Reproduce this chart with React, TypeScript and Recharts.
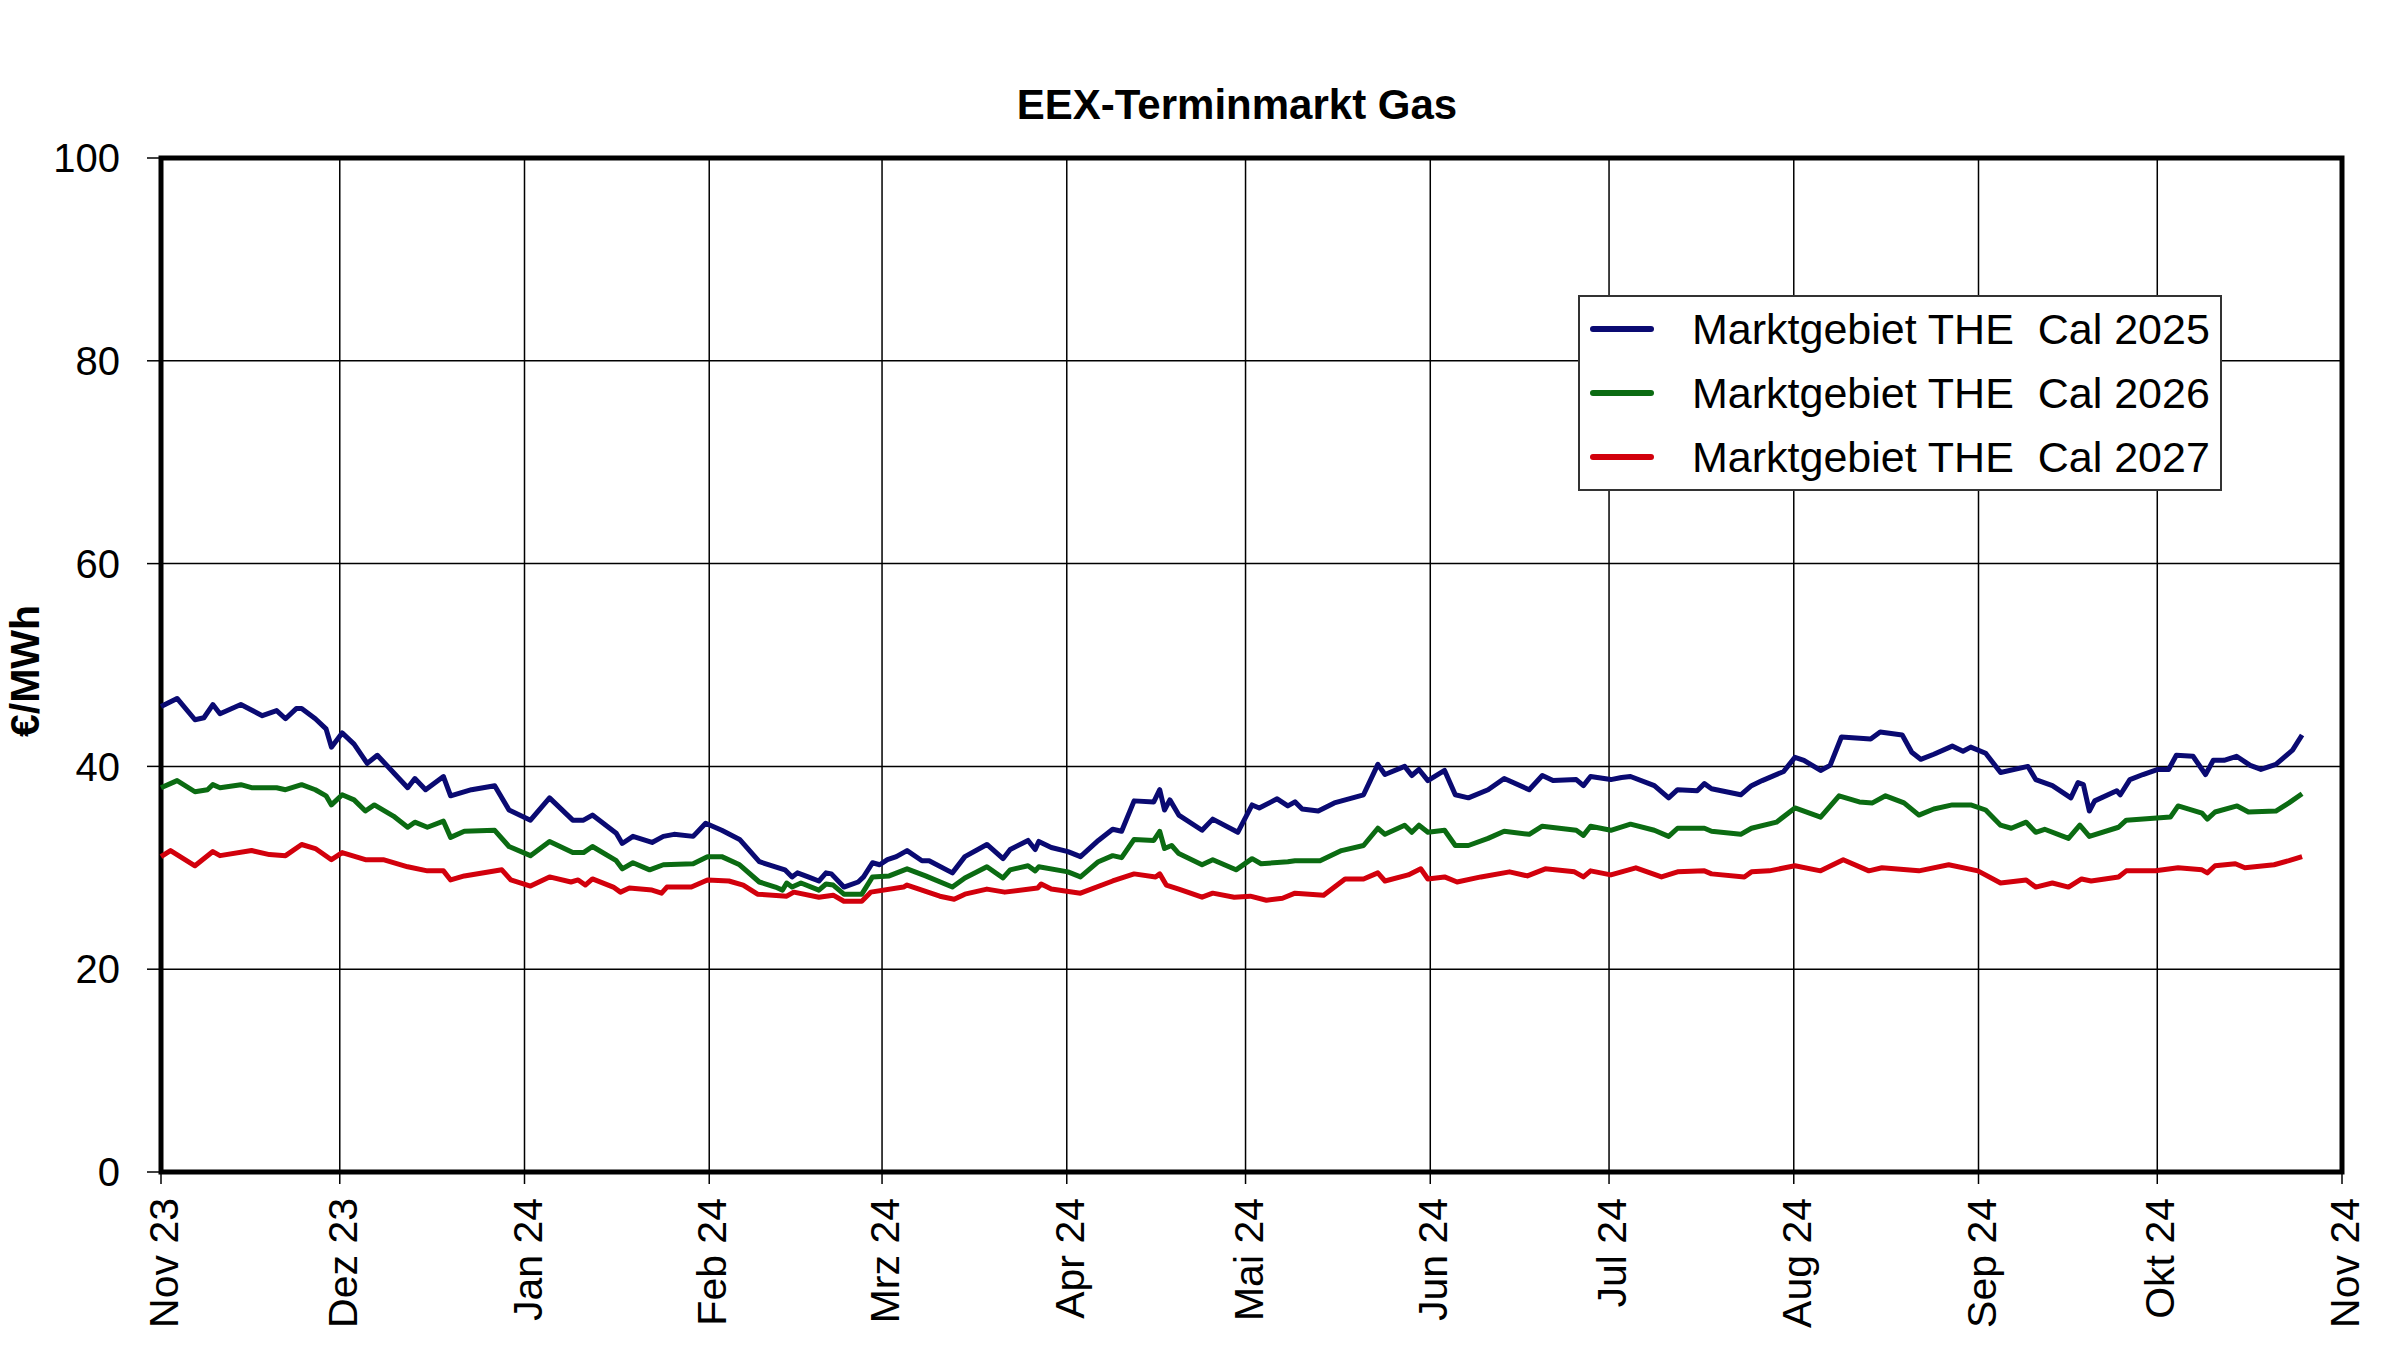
import React from 'react';
import { LineChart, Line, XAxis, YAxis, CartesianGrid, Legend, ReferenceArea, Label } from 'recharts';

const FONT = "'Liberation Sans', Arial, Helvetica, sans-serif";
const W = 2400;
const H = 1352;

// x = days since 1 Nov 2023
const monthTicks = [0, 30, 61, 92, 121, 152, 182, 213, 243, 274, 305, 335, 366];
const monthLabels = ['Nov 23', 'Dez 23', 'Jan 24', 'Feb 24', 'Mrz 24', 'Apr 24', 'Mai 24', 'Jun 24', 'Jul 24', 'Aug 24', 'Sep 24', 'Okt 24', 'Nov 24'];
const yTicks = [0, 20, 40, 60, 80, 100];

const seriesNames = ['Marktgebiet THE  Cal 2025', 'Marktgebiet THE  Cal 2026', 'Marktgebiet THE  Cal 2027'];
const seriesColors = ['#0a0a72', '#0b6b12', '#d2000c'];

const cal2025: [number, number][] = [
  [0, 45.9], [2.7, 46.7], [5.7, 44.6], [7.2, 44.8], [8.7, 46.1], [9.9, 45.2], [13.4, 46.1], [17, 45.0], [19.4, 45.5], [20.9, 44.7],
  [22.7, 45.7], [23.6, 45.7], [25.9, 44.7], [27.7, 43.7], [28.6, 41.9], [30.4, 43.3], [32.4, 42.2], [34.6, 40.3], [36.3, 41.1], [39, 39.4],
  [41.4, 37.9], [42.6, 38.8], [44.4, 37.7], [47.4, 39.0], [48.6, 37.1], [52.1, 37.7], [56, 38.1], [58.4, 35.7], [62, 34.7], [65.2, 36.9],
  [69.1, 34.7], [70.9, 34.7], [72.4, 35.2], [76.4, 33.4], [77.4, 32.4], [79.2, 33.1], [82.4, 32.5], [84.3, 33.1], [86.1, 33.3], [89.3, 33.1],
  [91.4, 34.4], [94.1, 33.7], [97.1, 32.8], [100.4, 30.6], [103.1, 30.1], [104.7, 29.8], [105.9, 29.1], [106.8, 29.5], [108.6, 29.1], [110.4, 28.7],
  [111.6, 29.5], [112.5, 29.4], [114.6, 28.1], [117, 28.6], [117.9, 29.1], [119.4, 30.5], [120.6, 30.3], [121.9, 30.8], [123.4, 31.1], [125.2, 31.7],
  [127.7, 30.7], [128.9, 30.7], [132.8, 29.5], [134.9, 31.1], [138.6, 32.3], [141.3, 30.9], [142.5, 31.8], [145.5, 32.7], [146.7, 31.8], [147.3, 32.6],
  [149.4, 32.0], [152.2, 31.6], [154.3, 31.1], [157.3, 32.7], [159.7, 33.8], [161.2, 33.6], [163.3, 36.6], [166.6, 36.5], [167.6, 37.7], [168.4, 35.7],
  [169.3, 36.7], [170.8, 35.2], [174.7, 33.7], [176.5, 34.8], [180.7, 33.5], [183.1, 36.2], [184.3, 35.9], [187.3, 36.8], [189.1, 36.1], [190.3, 36.5],
  [191.5, 35.8], [194.2, 35.6], [196.9, 36.4], [201.8, 37.2], [204.2, 40.2], [205.4, 39.2], [208.7, 40.0], [209.9, 39.1], [211.1, 39.7], [212.6, 38.6],
  [215.4, 39.6], [217.2, 37.2], [219.4, 36.9], [222.7, 37.7], [225.4, 38.8], [229.6, 37.7], [231.8, 39.1], [233.6, 38.6], [237.5, 38.7], [238.7, 38.1],
  [239.9, 39.0], [243.3, 38.7], [245.1, 38.9], [246.6, 39.0], [250.6, 38.1], [253, 36.9], [254.5, 37.7], [257.8, 37.6], [259, 38.3], [260.2, 37.8],
  [265.1, 37.2], [266.9, 38.1], [268.7, 38.6], [272.3, 39.5], [274.2, 40.9], [275.7, 40.6], [278.5, 39.6], [280.1, 40.1], [282, 42.9], [286.9, 42.7],
  [288.5, 43.4], [292.2, 43.1], [293.8, 41.4], [295.3, 40.7], [297.5, 41.2], [300.6, 42.0], [302.4, 41.5], [303.7, 41.9], [306.2, 41.3], [308.7, 39.4],
  [313.3, 40.0], [314.6, 38.7], [317.4, 38.1], [320.5, 36.9], [321.7, 38.4], [322.6, 38.2], [323.6, 35.6], [324.5, 36.6], [328.2, 37.6], [328.8, 37.2],
  [330.4, 38.7], [332.6, 39.2], [335.1, 39.7], [336.9, 39.7], [338.2, 41.1], [341, 41.0], [343.1, 39.2], [344.4, 40.6], [346.2, 40.6], [348.3, 41.0],
  [350.6, 40.1], [352.4, 39.7], [354.9, 40.2], [357.7, 41.6], [359.3, 43.1],
];

const cal2026: [number, number][] = [
  [0, 37.9], [2.7, 38.6], [5.7, 37.5], [7.8, 37.7], [8.7, 38.2], [9.9, 37.9], [13.4, 38.2], [15.2, 37.9], [19.4, 37.9], [20.9, 37.7],
  [23.6, 38.2], [25.9, 37.7], [27.7, 37.1], [28.6, 36.2], [30.4, 37.2], [32.4, 36.7], [34.3, 35.6], [35.8, 36.2], [39, 35.1], [41.4, 34.0],
  [42.6, 34.5], [44.7, 34.0], [47.4, 34.6], [48.6, 33.0], [50.9, 33.6], [56, 33.7], [58.4, 32.1], [62, 31.2], [65.2, 32.6], [69.1, 31.5],
  [70.9, 31.5], [72.4, 32.1], [76.4, 30.7], [77.4, 29.9], [79.2, 30.5], [82, 29.8], [84.3, 30.3], [89.3, 30.4], [91.7, 31.1], [94.1, 31.1],
  [97.1, 30.3], [100.4, 28.6], [103.1, 28.1], [104.3, 27.8], [105, 28.5], [105.9, 28.1], [107.4, 28.5], [110.4, 27.8], [111.6, 28.4], [112.8, 28.3],
  [114.6, 27.4], [117.6, 27.4], [119.4, 29.1], [122.2, 29.2], [125.2, 29.9], [128.3, 29.2], [132.8, 28.1], [134.9, 29.0], [138.6, 30.1], [141.3, 29.0],
  [142.5, 29.8], [145.5, 30.2], [146.7, 29.7], [147.3, 30.1], [152.2, 29.6], [154.3, 29.1], [157.3, 30.6], [159.7, 31.2], [161.2, 31.0], [163.3, 32.8],
  [166.6, 32.7], [167.6, 33.6], [168.4, 31.9], [169.6, 32.2], [170.8, 31.4], [174.7, 30.3], [176.5, 30.8], [180.4, 29.8], [183.1, 30.9], [184.6, 30.4],
  [189.1, 30.6], [190.3, 30.7], [194.5, 30.7], [198.1, 31.7], [201.8, 32.2], [204.2, 33.9], [205.4, 33.3], [208.7, 34.2], [209.9, 33.5], [211.1, 34.2],
  [212.6, 33.5], [215.4, 33.7], [217.2, 32.2], [219.4, 32.2], [222.7, 32.9], [225.4, 33.6], [229.6, 33.3], [231.8, 34.1], [237.5, 33.7], [238.7, 33.2],
  [239.9, 34.1], [243.3, 33.7], [246.6, 34.3], [250.6, 33.7], [253, 33.1], [254.5, 33.9], [259, 33.9], [260.2, 33.6], [265.1, 33.3], [266.9, 33.9],
  [271.1, 34.5], [274.2, 35.9], [278.5, 35.0], [281.6, 37.1], [285, 36.5], [287.2, 36.4], [289.4, 37.1], [292.5, 36.4], [295, 35.2], [297.5, 35.8],
  [300.6, 36.2], [303.7, 36.2], [306.2, 35.7], [308.7, 34.2], [310.5, 33.9], [313, 34.5], [314.6, 33.5], [316.1, 33.8], [320.1, 32.9], [322, 34.2],
  [323.6, 33.1], [328.5, 34.0], [329.8, 34.7], [337.2, 35.0], [338.5, 36.1], [342.5, 35.4], [343.4, 34.8], [344.7, 35.5], [348.4, 36.1], [350.3, 35.5],
  [354.9, 35.6], [357.1, 36.4], [359.3, 37.3],
];

const cal2027: [number, number][] = [
  [0, 31.1], [1.6, 31.7], [5.7, 30.2], [8.7, 31.6], [9.9, 31.2], [15.2, 31.7], [18.2, 31.3], [20.9, 31.2], [23.6, 32.3], [25.9, 31.9],
  [28.6, 30.8], [30.4, 31.5], [34.3, 30.8], [37.3, 30.8], [41.4, 30.1], [44.7, 29.7], [47.4, 29.7], [48.6, 28.8], [50.9, 29.2], [57.2, 29.8],
  [58.7, 28.8], [62, 28.2], [65.2, 29.1], [68.8, 28.6], [70, 28.8], [71.2, 28.3], [72.4, 28.9], [75.9, 28.1], [77.1, 27.6], [78.6, 28.0],
  [82.4, 27.8], [84, 27.5], [84.9, 28.1], [89, 28.1], [91.7, 28.8], [95.3, 28.7], [97.7, 28.3], [100.1, 27.4], [105, 27.2], [106.2, 27.6],
  [110.4, 27.1], [112.8, 27.3], [114.6, 26.7], [117.6, 26.7], [119.1, 27.6], [124.6, 28.1], [125.2, 28.3], [130.7, 27.2], [133.1, 26.9], [134.9, 27.4],
  [138.6, 27.9], [141.6, 27.6], [147.1, 28.0], [147.7, 28.4], [149.4, 27.9], [154.3, 27.5], [159.7, 28.7], [163.3, 29.4], [166.9, 29.1], [167.6, 29.4],
  [168.7, 28.3], [170.8, 27.9], [174.7, 27.1], [176.5, 27.5], [180.1, 27.1], [182.8, 27.2], [185.5, 26.8], [188.2, 27.0], [190.3, 27.5], [195.1, 27.3],
  [198.7, 28.9], [201.8, 28.9], [204.2, 29.5], [205.4, 28.7], [209.3, 29.3], [211.4, 29.9], [212.6, 28.9], [215.4, 29.1], [217.5, 28.6], [221.5, 29.1],
  [226.3, 29.6], [229.3, 29.2], [232.3, 29.9], [237.2, 29.6], [238.7, 29.1], [239.9, 29.7], [243.3, 29.3], [247.5, 30.0], [251.8, 29.1], [254.5, 29.6],
  [259, 29.7], [260.2, 29.4], [265.7, 29.1], [266.9, 29.6], [269.9, 29.7], [274.2, 30.2], [278.5, 29.7], [282.3, 30.8], [286.6, 29.7], [288.8, 30.0],
  [295, 29.7], [300, 30.3], [304.9, 29.7], [308.7, 28.5], [313, 28.8], [314.6, 28.1], [317.4, 28.5], [320.1, 28.1], [322.3, 28.9], [323.9, 28.7],
  [328.5, 29.1], [329.8, 29.7], [334.7, 29.7], [338.5, 30.0], [342.5, 29.8], [343.4, 29.5], [344.7, 30.2], [348.1, 30.4], [349.7, 30.0], [354.6, 30.3],
  [357.1, 30.7], [359.3, 31.1],
];

const seriesKeys = ['c25', 'c26', 'c27'];
const seriesData = [cal2025, cal2026, cal2027];

function buildRows() {
  const map = new Map<number, Record<string, number>>();
  seriesData.forEach((series, si) => {
    series.forEach(([d, v]) => {
      const row = map.get(d) ?? { d };
      row[seriesKeys[si]] = v;
      map.set(d, row);
    });
  });
  return Array.from(map.values()).sort((a, b) => a.d - b.d);
}
const rows = buildRows();

const MonthTick = (props: any) => {
  const { x, y, payload } = props;
  const idx = monthTicks.indexOf(payload.value);
  const label = idx >= 0 ? monthLabels[idx] : '';
  return (
    <text
      x={x}
      y={y}
      transform={`rotate(-90, ${x}, ${y})`}
      textAnchor="end"
      dy="0.42em"
      fontSize={41}
      fontFamily={FONT}
      fill="#000"
    >
      {label}
    </text>
  );
};

const renderYLabel = () => (
  <text
    x={39}
    y={671}
    transform="rotate(-90, 39, 671)"
    textAnchor="middle"
    fontSize={41}
    fontWeight="bold"
    fontFamily={FONT}
    fill="#000"
  >
    €/MWh
  </text>
);

const renderLegend = (props: any) => {
  const payload = props.payload || [];
  return (
    <div
      style={{
        boxSizing: 'border-box',
        width: 644,
        height: 196,
        border: '2px solid #333',
        background: '#fff',
        fontFamily: FONT,
      }}
    >
      {payload.map((entry: any, i: number) => (
        <div key={i} style={{ height: 64, display: 'flex', alignItems: 'center' }}>
          <div style={{ marginLeft: 10, width: 64, height: 6, background: entry.color, borderRadius: 3 }} />
          <span style={{ marginLeft: 38, fontSize: 43, lineHeight: '43px', whiteSpace: 'pre', color: '#000' }}>
            {entry.value}
          </span>
        </div>
      ))}
    </div>
  );
};

export default function App() {
  return (
    <div style={{ position: 'relative', width: W, height: H, background: '#fff', fontFamily: FONT }}>
      <style>{'html, body { margin: 0; padding: 0; background: #fff; }'}</style>
      <LineChart width={W} height={H} data={rows} margin={{ top: 158, right: 58, bottom: 0, left: 61 }}>
        <CartesianGrid stroke="#000" strokeWidth={1.5} />
        <XAxis
          type="number"
          dataKey="d"
          domain={[0, 366]}
          ticks={monthTicks}
          interval={0}
          height={180}
          tickSize={12}
          tickMargin={14}
          axisLine={false}
          tickLine={{ stroke: '#000', strokeWidth: 1.5 }}
          tick={<MonthTick />}
        />
        <YAxis
          type="number"
          domain={[0, 100]}
          ticks={yTicks}
          interval={0}
          width={100}
          tickSize={14}
          tickMargin={27}
          axisLine={false}
          tickLine={{ stroke: '#000', strokeWidth: 1.5 }}
          tick={{ fill: '#000', fontSize: 40, fontFamily: FONT }}
        >
          <Label content={renderYLabel} />
        </YAxis>
        <ReferenceArea x1={0} x2={366} y1={0} y2={100} fill="none" fillOpacity={0} stroke="#000" strokeWidth={5} />
        {seriesKeys.map((k, i) => (
          <Line
            key={k}
            type="linear"
            dataKey={k}
            name={seriesNames[i]}
            stroke={seriesColors[i]}
            strokeWidth={5}
            strokeLinejoin="round"
            dot={false}
            activeDot={false}
            connectNulls
            isAnimationActive={false}
          />
        ))}
        <Legend
          layout="vertical"
          align="center"
          verticalAlign="middle"
          content={renderLegend}
          wrapperStyle={{ position: 'absolute', left: 1578, top: 295, width: 644, height: 196 }}
        />
      </LineChart>
      <div
        style={{
          position: 'absolute',
          left: 837,
          top: 84,
          width: 800,
          textAlign: 'center',
          fontSize: 42,
          lineHeight: '42px',
          fontWeight: 'bold',
          color: '#000',
          fontFamily: FONT,
        }}
      >
        EEX-Terminmarkt Gas
      </div>
    </div>
  );
}
